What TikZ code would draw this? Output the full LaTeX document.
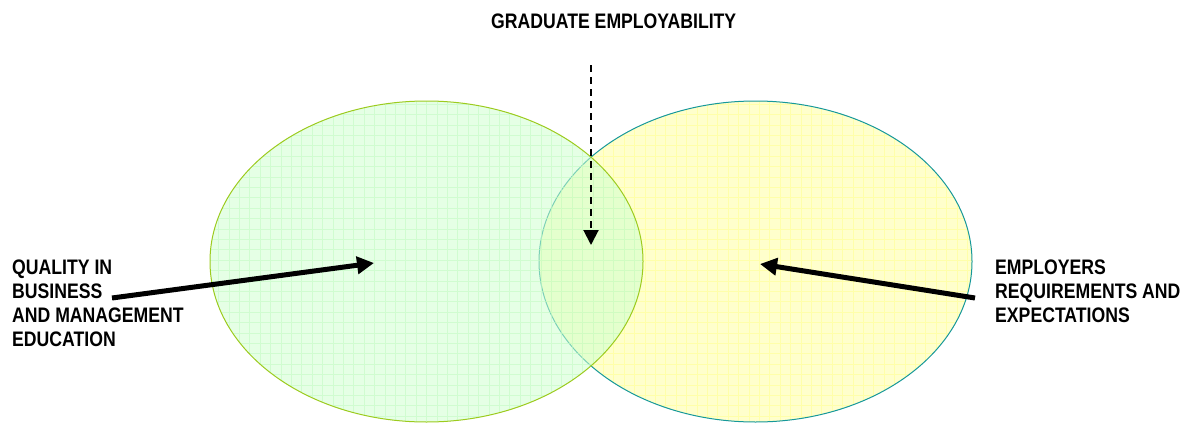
\documentclass[tikz,border=0pt]{standalone}
\usepackage{fontspec}
\setmainfont[FakeStretch=0.84]{Liberation Sans}
\usetikzlibrary{arrows.meta,positioning}

\definecolor{leftline}{HTML}{9CCB1E}
\definecolor{leftfill}{HTML}{CFFFCF}
\definecolor{leftgrid}{HTML}{C4FAC4}
\definecolor{rightline}{HTML}{16989A}
\definecolor{rightfill}{HTML}{FFFFCC}
\definecolor{rightgrid}{HTML}{FFFFAA}

\begin{document}
\begin{tikzpicture}[x=1pt,y=-1pt,
  label/.style={inner sep=0pt,align=left,font=\fontsize{21}{24}\selectfont\bfseries},
  bigarrow/.style={line width=5pt,-{Triangle[length=17pt,width=17pt]}},
  dasharrow/.style={line width=2pt,dash pattern=on 7pt off 5pt,-{Triangle[length=15pt,width=15pt]}}]
\useasboundingbox (0,0) rectangle (1193,423);

% requirements circle, drawn underneath
\fill[rightfill] (755.5,261.5) ellipse [x radius=216.5pt,y radius=160.5pt];
\begin{scope}
\clip (755.5,261.5) ellipse [x radius=216.5pt,y radius=160.5pt];
\draw[rightgrid,line width=0.4pt,step=10.4pt] (530,90) grid (980,430);
\end{scope}
\draw[rightline,line width=1pt] (755.5,261.5) ellipse [x radius=216.5pt,y radius=160.5pt];

% quality circle, see-through
\fill[leftfill,opacity=0.55] (426.5,261.5) ellipse [x radius=216.5pt,y radius=160.5pt];
\begin{scope}
\clip (426.5,261.5) ellipse [x radius=216.5pt,y radius=160.5pt];
\draw[leftgrid,opacity=0.6,line width=0.4pt,step=10.4pt] (200,90) grid (650,430);
\end{scope}
\draw[leftline,line width=1pt] (426.5,261.5) ellipse [x radius=216.5pt,y radius=160.5pt];

\node[label,anchor=base west] (grad) at (491,28) {GRADUATE EMPLOYABILITY};
\node[label,anchor=north west] (quality) at (12,260) {QUALITY IN\\BUSINESS\\AND MANAGEMENT\\EDUCATION};
\node[label,anchor=north west] (employers) at (995,260) {EMPLOYERS\\REQUIREMENTS AND\\EXPECTATIONS};

\coordinate (qstart) at (112,298);
\coordinate (qend) at (374,263);
\coordinate (estart) at (975,298);
\coordinate (eend) at (760,264);
\coordinate (gstart) at (591,65);
\coordinate (gend) at (591,245);

\draw[bigarrow] (qstart) -- (qend);
\draw[bigarrow] (estart) -- (eend);
\draw[dasharrow] (gstart) -- (gend);
\end{tikzpicture}
\end{document}
